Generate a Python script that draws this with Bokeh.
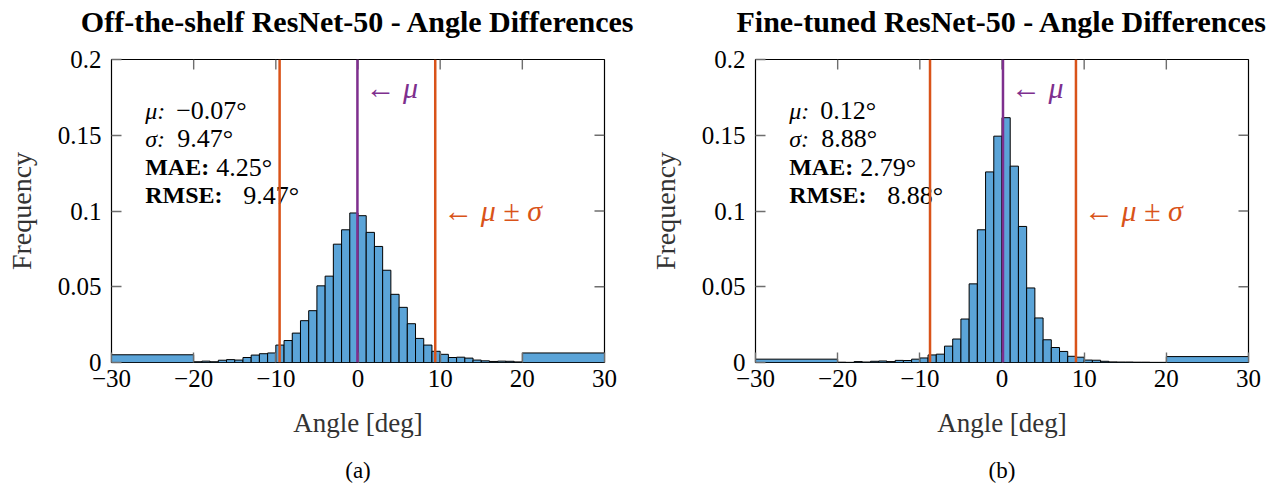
import math
from bokeh.plotting import figure
from bokeh.models import ColumnDataSource, Span, FixedTicker, CustomJSTickFormatter, Range1d
from bokeh.layouts import row, column
from bokeh.embed import file_html
from bokeh.resources import INLINE
from bokeh.core.properties import value, field

# ---------------- data ----------------
bin_edges = [-30] + list(range(-20, 21)) + [30]

freq_a = [0.0051,
          0.0005, 0.0009, 0.0005, 0.0015, 0.0019, 0.0016, 0.0033, 0.0049, 0.0058, 0.0063,
          0.0115, 0.0145, 0.0194, 0.0276, 0.0342, 0.0506, 0.0570, 0.0781, 0.0876, 0.0987,
          0.0969, 0.0859, 0.0766, 0.0609, 0.0450, 0.0364, 0.0256, 0.0159, 0.0115, 0.0074,
          0.0054, 0.0033, 0.0035, 0.0029, 0.0016, 0.0011, 0.0007, 0.0009, 0.0008, 0.0004,
          0.0063]

freq_b = [0.0022,
          0.0002, 0.0001, 0.0006, 0.0003, 0.0008, 0.0010, 0.0006, 0.0014, 0.0013, 0.0022,
          0.0030, 0.0050, 0.0055, 0.0108, 0.0155, 0.0287, 0.0519, 0.0876, 0.1258, 0.1494,
          0.1616, 0.1296, 0.0898, 0.0492, 0.0294, 0.0150, 0.0099, 0.0073, 0.0041, 0.0035,
          0.0016, 0.0015, 0.0008, 0.0004, 0.0003, 0.0003, 0.0002, 0.0002, 0.0001, 0.0001,
          0.0039]

titles = ["Off-the-shelf ResNet-50 - Angle Differences",
          "Fine-tuned ResNet-50 - Angle Differences"]
tags = ["(a)", "(b)"]
mu_vals = [-0.07, 0.12]
sigma_vals = [9.47, 8.88]
mae_vals = [4.25, 2.79]
rmse_vals = [9.47, 8.88]

x_ticks = [-30, -20, -10, 0, 10, 20, 30]
y_ticks = [0, 0.05, 0.1, 0.15, 0.2]
x_label = "Angle [deg]"
y_label = "Frequency"

# ---------------- style / layout ----------------
FONT = "Liberation Serif"
BAR_FILL = "#5BA4D8"
PURPLE = "#7E2F8E"
ORANGE = "#D95319"
TICK_COLOR = "#6E6E6E"
X_MIN, X_MAX, Y_MIN, Y_MAX = -30, 30, 0, 0.2
FRAME_H = 303
HEADER_H = 44          # title band
MAIN_TOP = 15          # gap between title band and frame
MAIN_BOTTOM = 90       # room for the x axis
TOTAL_H = 486
FOOTER_H = TOTAL_H - HEADER_H - MAIN_TOP - FRAME_H - MAIN_BOTTOM
TAG_FROM_BOTTOM = 16   # centre of "(a)"/"(b)" above the page bottom

fmt = CustomJSTickFormatter(code="return tick < 0 ? '\u2212' + (-tick) : '' + tick;")


def deg(v):
    s = f"{abs(v):.2f}\u00b0"
    return ("\u2212" + s) if v < 0 else s


def band(width, height, title=None):
    """A bare strip whose frame lines up with the plot frame below it."""
    b = figure(width=width, height=height, x_range=Range1d(X_MIN, X_MAX),
               y_range=Range1d(0, 1), title=title, output_backend="svg",
               toolbar_location=None, x_axis_location=None, y_axis_location=None,
               min_border=0, min_border_left=0, min_border_right=0,
               min_border_top=0, min_border_bottom=0,
               background_fill_color="white", border_fill_color="white")
    b.outline_line_color = None
    b.grid.visible = False
    return b


def make_panel(i, width, border_left, border_right):
    freqs = freq_a if i == 0 else freq_b
    mu, sigma = mu_vals[i], sigma_vals[i]

    # ---- title band ----
    head = band(width, HEADER_H, title=titles[i])
    head.title.text_font = FONT
    head.title.text_font_size = "30px"
    head.title.text_font_style = "bold"
    head.title.text_color = "black"
    head.title.align = "center"
    head.title.vertical_align = "top"
    head.title.standoff = 8
    head.title.offset = -3

    # ---- main plot ----
    p = figure(width=width, height=MAIN_TOP + FRAME_H + MAIN_BOTTOM,
               x_range=(X_MIN, X_MAX), y_range=(Y_MIN, Y_MAX), title=None,
               output_backend="svg", toolbar_location=None,
               min_border_left=border_left, min_border_right=border_right,
               min_border_top=MAIN_TOP, min_border_bottom=MAIN_BOTTOM,
               background_fill_color="white", border_fill_color="white")
    p.outline_line_color = "black"
    p.outline_line_width = 1.2
    p.xgrid.visible = False
    p.ygrid.visible = False

    src = ColumnDataSource(dict(left=bin_edges[:-1], right=bin_edges[1:], top=freqs))
    p.quad(left="left", right="right", bottom=0, top="top", source=src,
           fill_color=BAR_FILL, line_color="black", line_width=1)

    for ax, ticks in ((p.xaxis[0], x_ticks), (p.yaxis[0], y_ticks)):
        ax.ticker = FixedTicker(ticks=ticks)
        ax.formatter = fmt
        ax.major_tick_in = 10
        ax.major_tick_out = 0
        ax.minor_tick_line_color = None
        ax.major_tick_line_color = TICK_COLOR
        ax.major_tick_line_width = 1.4
        ax.axis_line_color = None
        ax.major_label_text_font = FONT
        ax.major_label_text_font_size = "25px"
        ax.major_label_text_color = "black"
        ax.axis_label_text_font = FONT
        ax.axis_label_text_font_style = "normal"
        ax.axis_label_text_color = "#333333"
    p.xaxis[0].axis_label = x_label
    p.yaxis[0].axis_label = y_label
    p.xaxis[0].axis_label_text_font_size = "27px"
    p.yaxis[0].axis_label_text_font_size = "28px"
    p.xaxis[0].major_label_standoff = 7
    p.xaxis[0].axis_label_standoff = 18
    p.yaxis[0].major_label_standoff = 10
    p.yaxis[0].axis_label_standoff = 18

    # mirrored ticks on the top and right frame edges (10 px long, pointing inward)
    inner_x = [t for t in x_ticks if X_MIN < t < X_MAX]
    inner_y = [t for t in y_ticks if Y_MIN < t < Y_MAX]
    p.ray(x=inner_x, y=[Y_MAX] * len(inner_x), length=10, length_units="screen",
          angle=-math.pi / 2, line_color=TICK_COLOR, line_width=1.4)
    p.ray(x=[X_MAX] * len(inner_y), y=inner_y, length=10, length_units="screen",
          angle=math.pi, line_color=TICK_COLOR, line_width=1.4)

    # mean / sigma lines
    p.add_layout(Span(location=mu, dimension="height", line_color=PURPLE, line_width=2.5))
    p.add_layout(Span(location=mu - sigma, dimension="height", line_color=ORANGE, line_width=2.5))
    p.add_layout(Span(location=mu + sigma, dimension="height", line_color=ORANGE, line_width=2.5))

    p.text(x=[mu], y=[0.1815], text=["\u2190 \u03bc"], text_color=PURPLE,
           text_font=value(FONT), text_font_size="30px", text_font_style="italic",
           text_baseline="middle", text_align="left", x_offset=8)
    p.text(x=[mu + sigma], y=[0.1003], text=["\u2190 \u03bc \u00b1 \u03c3"], text_color=ORANGE,
           text_font=value(FONT), text_font_size="30px", text_font_style="italic",
           text_baseline="middle", text_align="left", x_offset=8)

    # stats box
    keys = ["\u03bc:", "\u03c3:", "MAE:", "RMSE:"]
    styles = ["italic", "italic", "bold", "bold"]
    vals = [deg(mu_vals[i]), deg(sigma_vals[i]), deg(mae_vals[i]), deg(rmse_vals[i])]
    row_step = 28.3 / (FRAME_H / (Y_MAX - Y_MIN))
    ys = [0.1663 - k * row_step for k in range(4)]
    xoffs = [31, 32, 71, 98]
    ssrc = ColumnDataSource(dict(key=keys, style=styles, val=vals, y=ys, xoff=xoffs))
    p.text(x=-25.9, y="y", text="key", source=ssrc, text_font=value(FONT),
           text_font_size="24px", text_font_style=field("style"),
           text_baseline="middle", text_align="left", text_color="black")
    p.text(x=-25.9, y="y", text="val", source=ssrc, text_font=value(FONT),
           text_font_size="26px", text_font_style="normal", x_offset=field("xoff"),
           text_baseline="middle", text_align="left", text_color="black")

    # ---- sub-figure tag band ----
    foot = band(width, FOOTER_H)
    foot.text(x=[(X_MIN + X_MAX) / 2], y=[TAG_FROM_BOTTOM / FOOTER_H], text=[tags[i]],
              text_font=value(FONT), text_font_size="23px", text_font_style="normal",
              text_color="black", text_align="center", text_baseline="middle")

    return column(head, p, foot, spacing=0)


c1 = make_panel(0, 640, 111, 36)
c2 = make_panel(1, 642, 115, 34)
layout = row(c1, c2, spacing=0)

open("out.html", "w").write(file_html(layout, INLINE))
